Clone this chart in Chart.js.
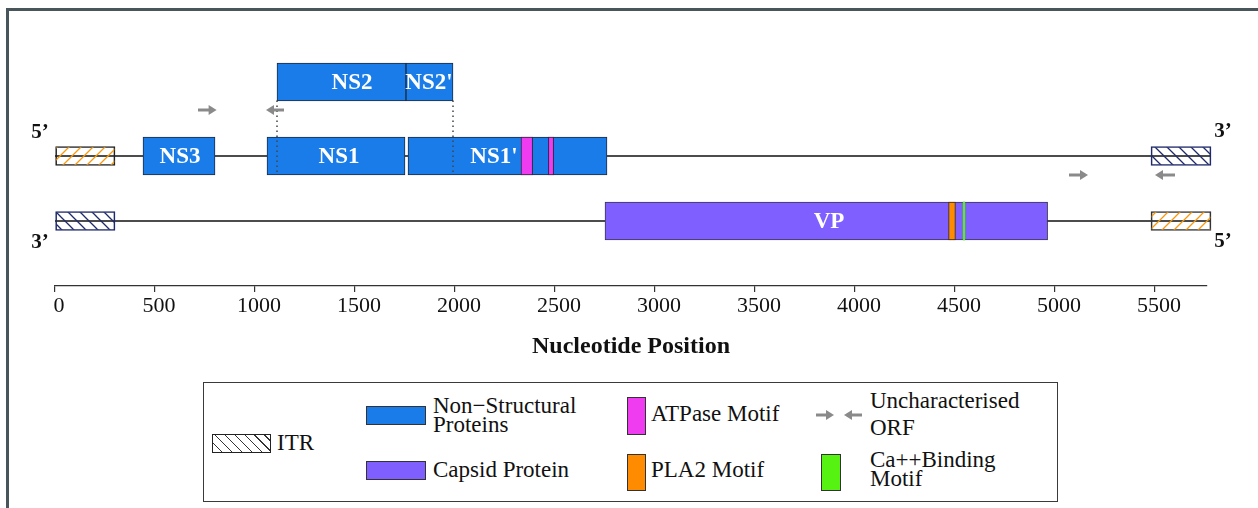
<!DOCTYPE html>
<html>
<head>
<meta charset="utf-8">
<script src="https://cdn.jsdelivr.net/npm/chart.js@4.4.1/dist/chart.umd.min.js"></script>
<style>
  html, body { margin: 0; padding: 0; background: #fff; overflow: hidden; }
  body { width: 1258px; height: 508px; position: relative; font-family: 'Liberation Serif', serif; }
  #frame { position: absolute; left: 6px; top: 8px; width: 1400px; height: 700px; border: 3px solid #48555b; box-sizing: border-box; }
  #myChart { position: absolute; left: 0; top: 0; }
  #legend { position: absolute; left: 203px; top: 382px; width: 855px; height: 120px; border: 1px solid #3a3a3a; box-sizing: border-box; background: #fff; }
  .swatch { position: absolute; box-sizing: border-box; border: 1px solid #333; }
  .line { position: absolute; font-size: 23px; line-height: 22px; height: 22px; color: #111; white-space: nowrap; }
  svg { position: absolute; }
</style>
</head>
<body>
<div id="frame"></div>
<canvas id="myChart" width="1258" height="508"></canvas>
<div id="legend"></div>
<script>
// axis
const axisMax = 5760;
const tickValues = [0, 500, 1000, 1500, 2000, 2500, 3000, 3500, 4000, 4500, 5000, 5500];

// vertical tracks (abstract levels on the hidden y scale)
const ns2Level = 20.4;
const orfTopLevel = 17.6;
const forwardLevel = 13;
const orfBottomLevel = 11.1;
const reverseLevel = 6.5;

// inverted terminal repeats
const itrStarts = [0, 5480, 0, 5480];
const itrEnds = [300, 5780, 300, 5780];
const itrTrack = [forwardLevel, forwardLevel, reverseLevel, reverseLevel];

// non-structural proteins
const nsNames = ['NS3', 'NS1', 'NS1\'', 'NS2', 'NS2\''];
const nsStarts = [440, 1060, 1765, 1110, 1755];
const nsEnds = [800, 1750, 2760, 1755, 1990];
const nsTrack = [forwardLevel, forwardLevel, forwardLevel, ns2Level, ns2Level];
const nsLabelPos = [625, 1420, 2195, 1485, 1870];

// capsid
const vpStart = 2750;
const vpEnd = 4963;
const vpLabelPos = 3870;

// motifs
const atpaseStarts = [2330, 2467];
const atpaseEnds = [2388, 2493];
const pla2Starts = [4468];
const pla2Ends = [4502];
const caStarts = [4541];
const caEnds = [4549];

// uncharacterised ORFs (arrow tail -> head)
const orfTails = [715, 1145, 5070, 5600];
const orfHeads = [808, 1055, 5165, 5500];
const orfTrack = [orfTopLevel, orfTopLevel, orfBottomLevel, orfBottomLevel];

// NS2 splice guides
const spliceX = [1110, 1990];

const nsColor = '#1a7ce8';
const vpColor = '#7f5fff';
const atpaseColor = '#f03cf0';
const pla2Color = '#ff8c00';
const caColor = '#55f212';
const orfColor = '#8a8a8a';
const itrOrange = '#f59a10';
const itrNavy = '#1f2a6a';
const serif = "'Liberation Serif', serif";

const ctx = document.getElementById('myChart').getContext('2d');

function hatch(color, dir) {
    const s = 12;
    const c = document.createElement('canvas');
    c.width = s; c.height = s;
    const g = c.getContext('2d');
    g.strokeStyle = color;
    g.lineWidth = 1.3;
    g.beginPath();
    if (dir === '/') {
        g.moveTo(0, s); g.lineTo(s, 0);
        g.moveTo(-2, 2); g.lineTo(2, -2);
        g.moveTo(s - 2, s + 2); g.lineTo(s + 2, s - 2);
    } else {
        g.moveTo(0, 0); g.lineTo(s, s);
        g.moveTo(s - 2, -2); g.lineTo(s + 2, 2);
        g.moveTo(-2, s - 2); g.lineTo(2, s + 2);
    }
    g.stroke();
    return ctx.createPattern(c, 'repeat');
}

const orangeHatch = hatch(itrOrange, '/');
const navyHatch = hatch(itrNavy, '\\');

const span = (starts, ends, track) => starts.map((s, i) => ({ x: [s, ends[i]], y: Array.isArray(track) ? track[i] : track }));

const barBase = {
    type: 'bar',
    indexAxis: 'y',
    grouped: false,
    borderSkipped: false,
    borderWidth: 1,
    clip: false,
};

const datasets = [
    // strands
    ...[forwardLevel, reverseLevel].map(level => ({
        type: 'line',
        data: [{ x: 0, y: level }, { x: itrEnds[1], y: level }],
        borderColor: '#111',
        borderWidth: 1.4,
        pointRadius: 0,
        clip: false,
        order: 20,
    })),
    {
        ...barBase,
        data: span(itrStarts, itrEnds, itrTrack),
        backgroundColor: [orangeHatch, navyHatch, navyHatch, orangeHatch],
        borderColor: ['#222', itrNavy, itrNavy, '#333'],
        barThickness: 19,
        order: 10,
    },
    {
        ...barBase,
        data: span(nsStarts, nsEnds, nsTrack),
        backgroundColor: nsColor,
        borderColor: '#1c2a40',
        barThickness: 38,
        order: 5,
    },
    {
        ...barBase,
        data: span([vpStart], [vpEnd], reverseLevel),
        backgroundColor: vpColor,
        borderColor: '#3a3450',
        barThickness: 38,
        order: 5,
    },
    {
        ...barBase,
        data: span(atpaseStarts, atpaseEnds, forwardLevel),
        backgroundColor: atpaseColor,
        borderColor: '#3a2040',
        barThickness: 38,
        order: 3,
    },
    {
        ...barBase,
        data: span(pla2Starts, pla2Ends, reverseLevel),
        backgroundColor: pla2Color,
        borderColor: '#3a2a10',
        barThickness: 38,
        order: 3,
    },
    {
        ...barBase,
        data: span(caStarts, caEnds, reverseLevel),
        backgroundColor: caColor,
        borderWidth: 0,
        barThickness: 38,
        order: 3,
    },
    // dotted guides from NS2 down to NS1 / NS1'
    ...spliceX.map(px => ({
        type: 'line',
        data: [{ x: px, y: ns2Level - 1.85 }, { x: px, y: forwardLevel - 1.9 }],
        borderColor: '#444',
        borderWidth: 1.5,
        borderDash: [1.5, 3.5],
        pointRadius: 0,
        order: 0,
    })),
];

function drawArrow(c, tail, head, y) {
    const dir = head > tail ? 1 : -1;
    c.save();
    c.strokeStyle = orfColor;
    c.fillStyle = orfColor;
    c.lineWidth = 3;
    c.beginPath();
    c.moveTo(tail, y);
    c.lineTo(head - dir * 5, y);
    c.stroke();
    c.beginPath();
    c.moveTo(head, y);
    c.lineTo(head - dir * 8, y - 5);
    c.lineTo(head - dir * 8, y + 5);
    c.closePath();
    c.fill();
    c.restore();
}

const annotations = {
    id: 'annotations',
    afterDatasetsDraw(chart) {
        const c = chart.ctx;
        const { x, y } = chart.scales;
        c.save();
        // protein names
        c.font = 'bold 23px ' + serif;
        c.fillStyle = '#fff';
        c.textAlign = 'center';
        c.textBaseline = 'middle';
        nsNames.forEach((n, i) => {
            c.fillText(n, x.getPixelForValue(nsLabelPos[i]), y.getPixelForValue(nsTrack[i]) + 1);
        });
        c.fillText('VP', x.getPixelForValue(vpLabelPos), y.getPixelForValue(reverseLevel) + 1);

        // strand ends
        c.fillStyle = '#111';
        c.font = 'bold 21px ' + serif;
        const left = x.getPixelForValue(itrStarts[0]) - 15;
        const right = x.getPixelForValue(itrEnds[1]) + 12;
        c.fillText('5\u2019', left, y.getPixelForValue(forwardLevel) - 23);
        c.fillText('3\u2019', right, y.getPixelForValue(forwardLevel) - 24);
        c.fillText('3\u2019', left, y.getPixelForValue(reverseLevel) + 22);
        c.fillText('5\u2019', right, y.getPixelForValue(reverseLevel) + 21);

        // ORF arrows
        orfTails.forEach((t, i) => {
            drawArrow(c, x.getPixelForValue(t), x.getPixelForValue(orfHeads[i]), y.getPixelForValue(orfTrack[i]));
        });
        c.restore();
    },
};

new Chart(ctx, {
    type: 'bar',
    data: { datasets: datasets },
    options: {
        responsive: false,
        animation: false,
        layout: { padding: { left: 55, right: 51, top: 16, bottom: 147 } },
        plugins: {
            legend: { display: false },
            tooltip: { enabled: false },
        },
        scales: {
            x: {
                type: 'linear',
                min: 0,
                max: axisMax,
                offset: false,
                afterBuildTicks: (scale) => { scale.ticks = tickValues.map(v => ({ value: v })); },
                afterFit: (scale) => { scale.height = 75; },
                ticks: {
                    color: '#111',
                    font: { family: serif, size: 22 },
                    padding: 1,
                    labelOffset: 4,
                    maxRotation: 0,
                    autoSkip: false,
                    callback: (v) => String(v),
                },
                grid: { offset: false, drawOnChartArea: false, tickLength: 6, color: '#333', lineWidth: 1.2 },
                border: { display: true, color: '#333', width: 1.3 },
                title: {
                    display: true,
                    text: 'Nucleotide Position',
                    color: '#111',
                    font: { family: serif, size: 24, weight: 'bold' },
                    padding: 0,
                },
            },
            y: { type: 'linear', display: false, offset: false, min: 0, max: 27 },
        },
    },
    plugins: [annotations],
});

// legend
const legendLabels = [['ITR'], ['Non\u2212Structural', 'Proteins'], ['Capsid Protein'], ['ATPase Motif'], ['PLA2 Motif'], ['Uncharacterised', 'ORF'], ['Ca++Binding', 'Motif']];
const legendSwatches = ['itr', nsColor, vpColor, atpaseColor, pla2Color, 'orf', caColor];
// swatch box [left, top, width, height] and text [left, line centres] inside the legend frame
const legendSwatchBox = [[8, 51, 59, 19], [162, 23, 60, 19], [162, 78, 60, 19], [423, 14, 19, 38], [423, 71, 19, 37], [610, 24, 50, 16], [617, 71, 20, 37]];
const legendTextBox = [[73, [60]], [229, [23, 42]], [229, [87]], [447, [31]], [447, [87]], [666, [18, 45]], [666, [77, 96]]];

const legend = document.getElementById('legend');
legendLabels.forEach((lines, i) => {
    const [l, t, w, h] = legendSwatchBox[i];
    if (legendSwatches[i] === 'orf') {
        const svg = document.createElementNS('http://www.w3.org/2000/svg', 'svg');
        svg.setAttribute('width', w); svg.setAttribute('height', h);
        svg.style.left = l + 'px'; svg.style.top = t + 'px';
        const m = h / 2;
        svg.innerHTML =
            `<line x1="2" y1="${m}" x2="15" y2="${m}" stroke="${orfColor}" stroke-width="3"/>` +
            `<polygon points="20,${m} 12,${m - 5} 12,${m + 5}" fill="${orfColor}"/>` +
            `<line x1="48" y1="${m}" x2="35" y2="${m}" stroke="${orfColor}" stroke-width="3"/>` +
            `<polygon points="30,${m} 38,${m - 5} 38,${m + 5}" fill="${orfColor}"/>`;
        legend.appendChild(svg);
    } else {
        const sw = document.createElement('div');
        sw.className = 'swatch';
        Object.assign(sw.style, { left: l + 'px', top: t + 'px', width: w + 'px', height: h + 'px' });
        if (legendSwatches[i] === 'itr') {
            sw.style.background = 'repeating-linear-gradient(45deg, #fff 0 6px, #333 6px 7px)';
            sw.style.borderColor = '#222';
        } else {
            sw.style.background = legendSwatches[i];
        }
        legend.appendChild(sw);
    }
    const [tx, centres] = legendTextBox[i];
    lines.forEach((txt, k) => {
        const d = document.createElement('div');
        d.className = 'line';
        d.textContent = txt;
        d.style.left = tx + 'px';
        d.style.top = (centres[k] - 11) + 'px';
        legend.appendChild(d);
    });
});
</script>
</body>
</html>
